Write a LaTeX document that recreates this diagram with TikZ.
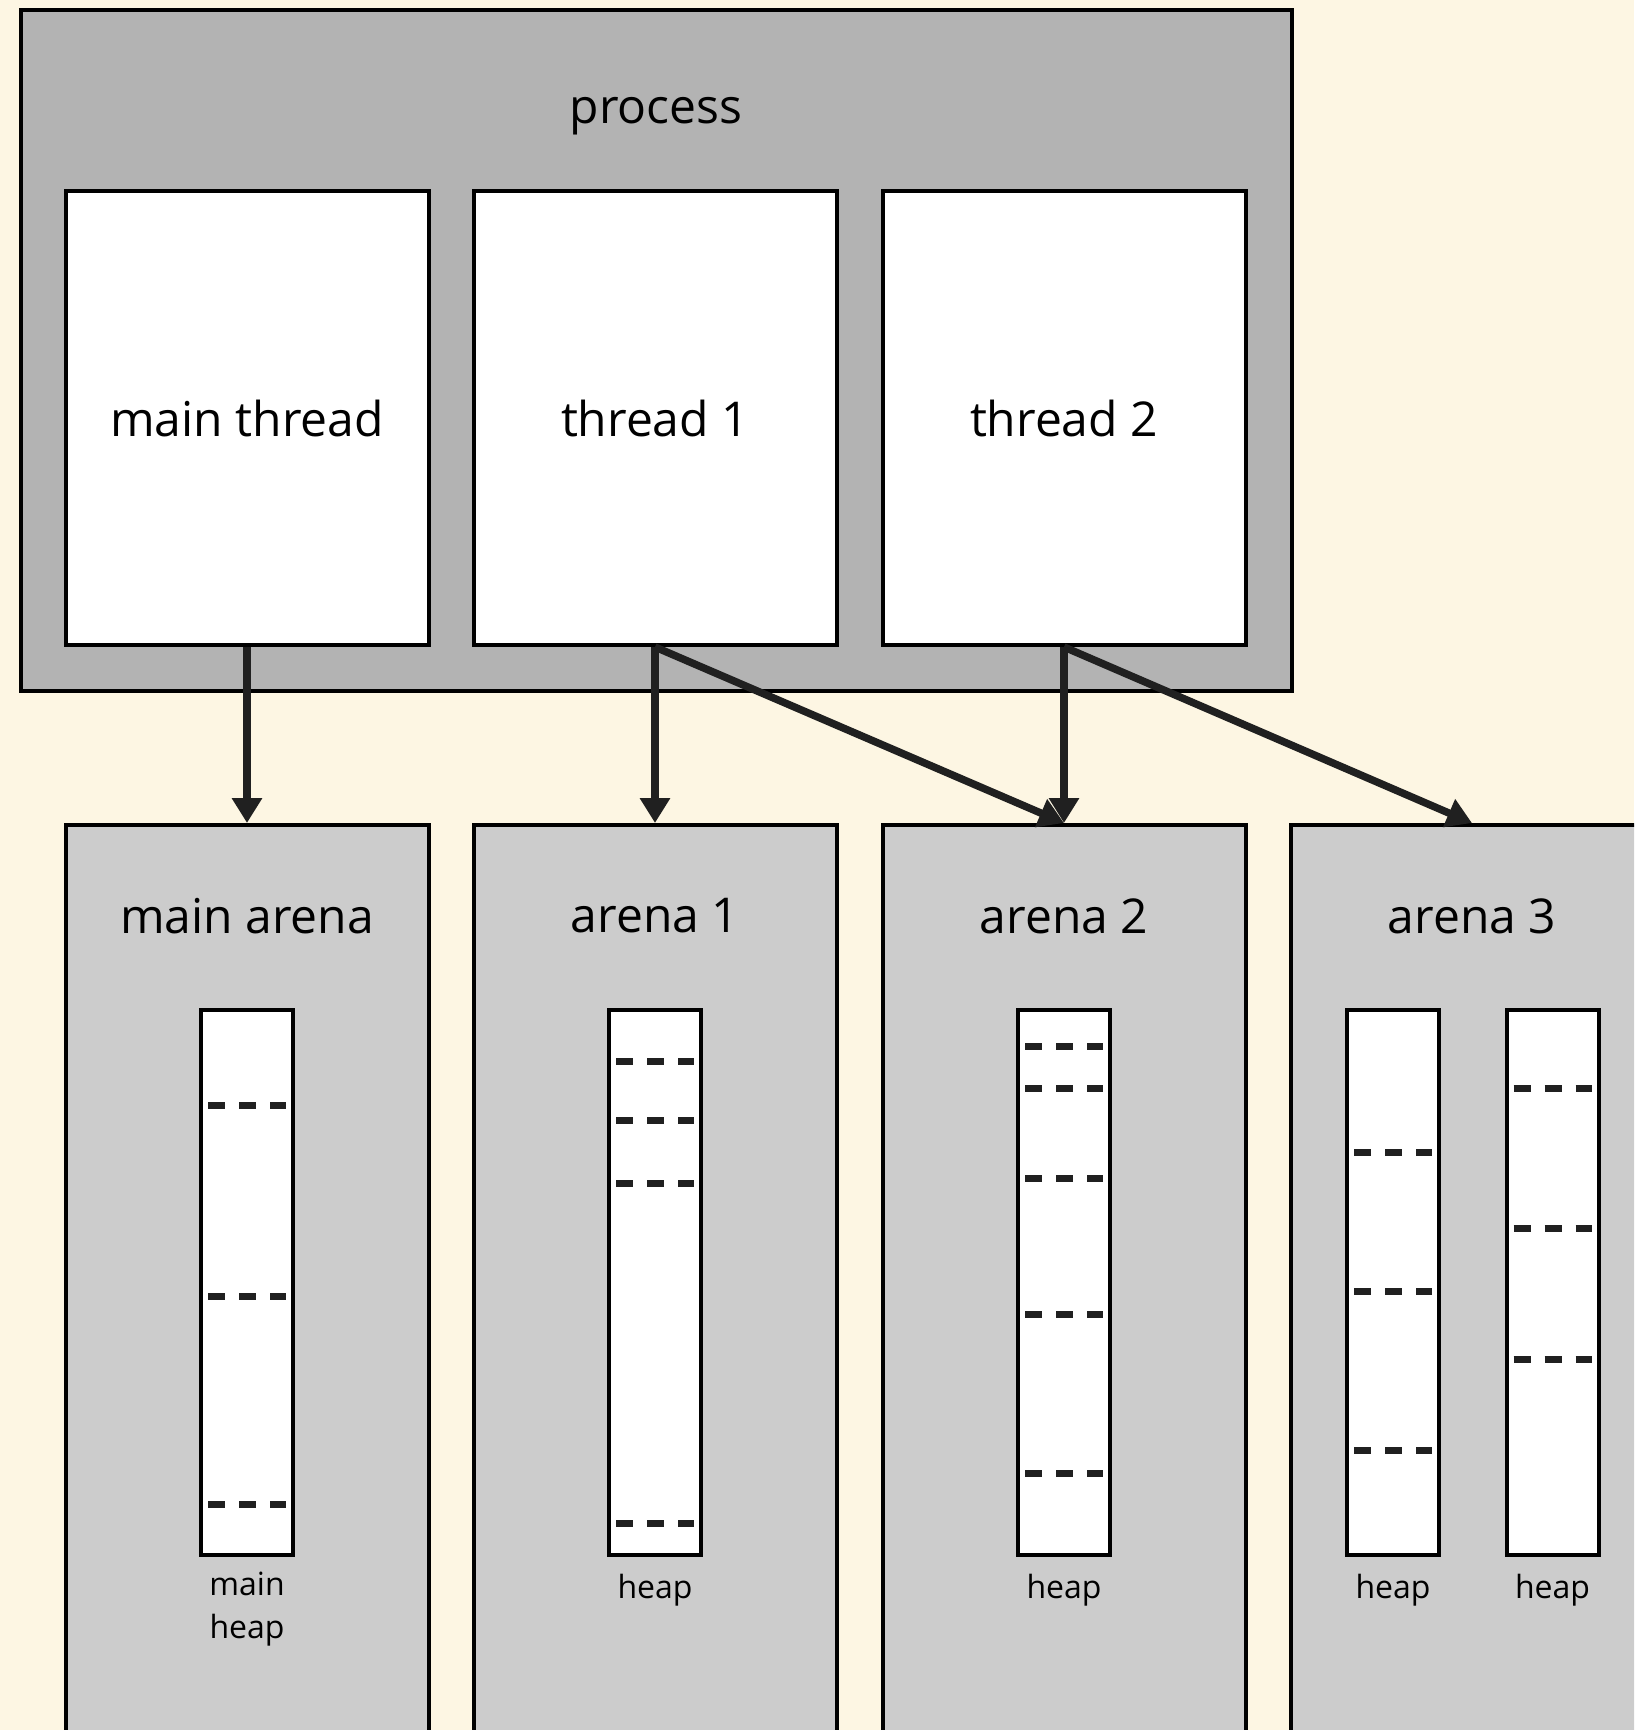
\documentclass[tikz,border=0pt]{standalone}
\usepackage{fontspec}
\setmainfont{Open Sans}
\usetikzlibrary{arrows.meta}

\definecolor{paper}{HTML}{FDF6E3}
\definecolor{procgray}{HTML}{B3B3B3}
\definecolor{arenagray}{HTML}{CCCCCC}
\definecolor{ink}{HTML}{202020}

\tikzset{
  box/.style={draw=black, line width=4pt, inner sep=0pt, minimum width=363pt},
  thread/.style={box, fill=white, minimum height=454pt, font=\fontsize{48}{58}\selectfont},
  arena/.style={box, fill=arenagray, minimum height=1000pt},
  title/.style={font=\fontsize{48}{58}\selectfont},
  heapbox/.style={draw=black, line width=4pt, fill=white, inner sep=0pt,
    minimum width=92pt, minimum height=545pt},
  heaplabel/.style={font=\fontsize{32}{43}\selectfont, align=center},
  link/.style={draw=ink, line width=7.5pt, -{Triangle[width=29pt,length=25pt]}},
  cut/.style={draw=ink, line width=7pt, dash pattern=on 17pt off 14pt},
}

\begin{document}
\begin{tikzpicture}[x=1pt, y=-1pt]
  \fill[paper] (0,0) rectangle (1634,1730);
  \useasboundingbox (0,0) rectangle (1634,1730);
  \clip (0,0) rectangle (1634,1730);

  % process with its threads
  \node[box, fill=procgray, minimum width=1271pt, minimum height=681pt] (proc) at (656.5,350.5) {};
  \node[title] (proctitle) at (656,116) {process};
  \node[thread] (mainthr) at (247,418) {main thread};
  \node[thread] (thr1) at (655,418) {thread 1};
  \node[thread] (thr2) at (1064,418) {thread 2};

  % arenas
  \node[arena] (mainar) at (247,1325) {};
  \node[arena] (ar1) at (655,1325) {};
  \node[arena] (ar2) at (1064,1325) {};
  \node[arena] (ar3) at (1472,1325) {};
  \foreach \n/\t in {mainar/main arena, ar1/arena 1, ar2/arena 2, ar3/arena 3}
    \node[title] at ([yshift=-93pt]\n.north) {\t};

  % heaps
  \node[heapbox] (h0) at (247,1282.5) {};
  \node[heapbox] (h1) at (655,1282.5) {};
  \node[heapbox] (h2) at (1064,1282.5) {};
  \node[heapbox] (h3a) at (1393,1282.5) {};
  \node[heapbox] (h3b) at (1552.5,1282.5) {};

  \node[heaplabel] at ([yshift=-52pt]h0.south) {main\\heap};
  \foreach \h in {h1,h2,h3a,h3b}
    \node[heaplabel] at ([yshift=-33pt]\h.south) {heap};

  % chunk boundaries
  \foreach \hx/\ys in {247/{1105,1296,1504}, 655/{1061,1120,1183,1523},
      1064/{1046,1088,1178,1314,1473}, 1393/{1152,1291,1450}, 1552.5/{1088,1228,1359}}
    \foreach \y in \ys
      \draw[cut] (\hx-39,\y) -- (\hx+39,\y);

  % thread -> arena
  \draw[link] (mainthr.south) -- (mainar.north);
  \draw[link] (thr1.south) -- (ar1.north);
  \draw[link] (thr1.south) -- (ar2.north);
  \draw[link] (thr2.south) -- (ar2.north);
  \draw[link] (thr2.south) -- (ar3.north);
\end{tikzpicture}
\end{document}
